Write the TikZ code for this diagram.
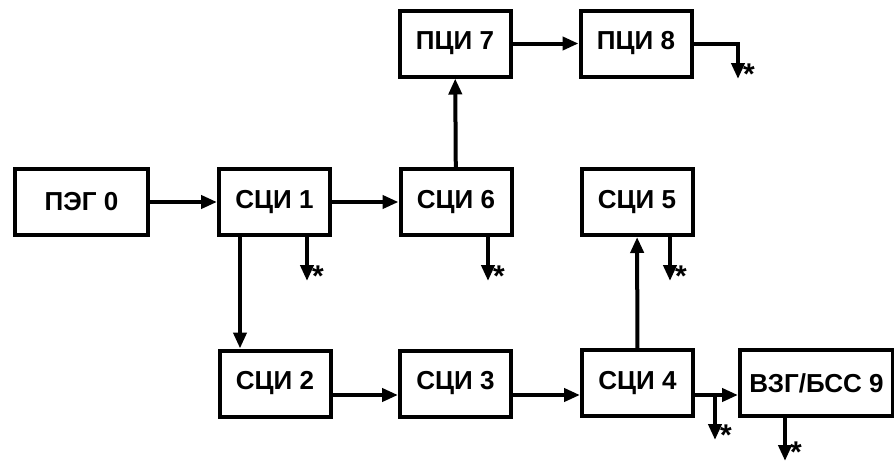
\documentclass[tikz,border=0pt]{standalone}
\usepackage{fontspec}
\setmainfont{Liberation Sans}
\usetikzlibrary{arrows.meta}

\begin{document}
\begin{tikzpicture}[x=1pt,y=-1pt,
		blk/.style={draw,line width=4pt,minimum width=111pt,minimum height=66pt,inner sep=0pt,font=\fontsize{26}{30}\selectfont\bfseries},
		arr/.style={line width=4pt,-{Triangle[length=16pt,width=13pt]}},
		ast/.style={anchor=base west,inner sep=0pt,xshift=5pt,yshift=-5pt,font=\fontsize{30}{30}\selectfont\bfseries}]
		\useasboundingbox (0,0) rectangle (894,463);

		\node[blk,minimum width=133pt] (peg0) at (81.5,202) {ПЭГ 0};
		\node[blk] (sci1) at (274.5,202) {СЦИ 1};
		\node[blk] (sci6) at (456,202) {СЦИ 6};
		\node[blk] (sci5) at (637,202) {СЦИ 5};
		\node[blk] (pci7) at (455,43.5) {ПЦИ 7};
		\node[blk] (pci8) at (636,43.5) {ПЦИ 8};
		\node[blk] (sci2) at (275,383.5) {СЦИ 2};
		\node[blk] (sci3) at (455.5,383.5) {СЦИ 3};
		\node[blk] (sci4) at (637.5,383) {СЦИ 4};
		\node[blk,minimum width=153pt] (vzg9) at (816.5,383) {ВЗГ/БСС 9};

		\coordinate (row) at (0,395);
		\coordinate (down1) at (240,0);
		\coordinate (j4) at (715,395);

		\draw[arr] (peg0) -- (sci1);
		\draw[arr] (sci1) -- (sci6);
		\draw[arr] (sci6) -- (pci7);
		\draw[arr] (pci7) -- (pci8);
		\draw[arr] (sci1.south -| down1) -- (sci2.north -| down1);
		\draw[arr] (sci2.east |- row) -- (sci3.west |- row);
		\draw[arr] (sci3.east |- row) -- (sci4.west |- row);
		\draw[arr] (sci4.east |- row) -- (vzg9.west |- row);
		\draw[arr] (sci4) -- (sci5);

		\coordinate (e1) at (307,281);
		\coordinate (e6) at (488,281);
		\coordinate (e5) at (670,281);
		\coordinate (e8) at (738,79);
		\coordinate (e4) at (715,440);
		\coordinate (e9) at (785,461);

		\draw[arr] (sci1.south -| e1) -- (e1);
		\draw[arr] (sci6.south -| e6) -- (e6);
		\draw[arr] (sci5.south -| e5) -- (e5);
		\draw[arr] (pci8.east) -- (pci8.east -| e8) -- (e8);
		\draw[arr] (j4) -- (e4);
		\draw[arr] (vzg9.south -| e9) -- (e9);

		\node[ast] (s1) at (e1) {*};
		\node[ast] (s6) at (e6) {*};
		\node[ast] (s5) at (e5) {*};
		\node[ast] (s8) at (e8) {*};
		\node[ast] (s4) at (e4) {*};
		\node[ast,yshift=4pt] (s9) at (e9) {*};
	\end{tikzpicture}
\end{document}
